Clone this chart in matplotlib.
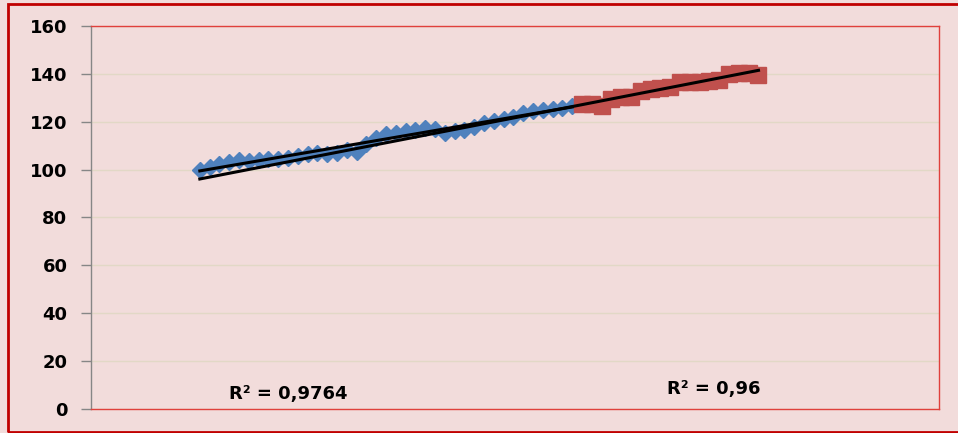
import numpy as np
import matplotlib
matplotlib.use("Agg")
import matplotlib.pyplot as plt
from matplotlib.patches import Rectangle

# blue series (diamonds) and red series (squares)
blue_vals = [100, 101, 102.2, 103, 104, 103.5, 104, 104.3, 104.5, 104.8,
             105.5, 106.5, 107, 106.5, 107, 108.2, 107.5, 110.5, 113, 115,
             115.5, 116, 116.5, 117.5, 117, 115.5, 116, 116.5, 118, 119.5,
             120.5, 121, 122, 123.5, 124.5, 124.8, 125.3, 125.8, 126.5]
red_vals = [127.5, 127.5, 126.5, 129.5, 130.5, 130.5, 133, 133.5, 134, 134.5,
            136.5, 136.5, 136.8, 137, 137.5, 140, 140.5, 140.5, 139.5]
r2_labels = ["R² = 0,9764", "R² = 0,96"]
y_ticks = [0, 20, 40, 60, 80, 100, 120, 140, 160]

x_blue = np.arange(len(blue_vals))
x_red = np.arange(len(blue_vals), len(blue_vals) + len(red_vals))

bg = "#F2DCDB"
fig = plt.figure(figsize=(9.58, 4.33), dpi=100, facecolor=bg)
ax = fig.add_axes([0.095, 0.0554, 0.885, 0.8846], facecolor=bg)

ax.plot(x_blue, blue_vals, linestyle="none", marker="D", markersize=8.5,
        color="#4F81BD", zorder=3)
ax.plot(x_red, red_vals, linestyle="none", marker="s", markersize=11,
        color="#C0504D", zorder=3)

# linear trend lines: blue over its own range, red forecast backward to the start
p1 = np.polyfit(x_blue, blue_vals, 1)
xb = np.array([x_blue[0], x_blue[-1]])
ax.plot(xb, np.polyval(p1, xb), color="black", lw=2.2, zorder=4)
p2 = np.polyfit(x_red, red_vals, 1)
xr = np.array([x_blue[0], x_red[-1]])
ax.plot(xr, np.polyval(p2, xr), color="black", lw=2.2, zorder=4)

ax.set_ylim(0, 160)
ax.set_xlim(-11.1, 75.4)
ax.set_yticks(y_ticks)
ax.set_xticks([])
ax.yaxis.grid(True, color="#E2D8C6", lw=1)
ax.set_axisbelow(True)
ax.tick_params(axis="y", direction="out", length=7, width=1, color="#868686",
               pad=10, labelsize=13)
for lbl in ax.get_yticklabels():
    lbl.set_fontweight("bold")

for s in ["top", "right", "bottom"]:
    ax.spines[s].set_color("#E0403C")
    ax.spines[s].set_linewidth(1)
ax.spines["left"].set_color("#868686")
ax.spines["left"].set_linewidth(1)

ax.text(0.163, 0.039, r2_labels[0], transform=ax.transAxes, fontsize=13,
        fontweight="bold", va="center", ha="left")
ax.text(0.679, 0.052, r2_labels[1], transform=ax.transAxes, fontsize=13,
        fontweight="bold", va="center", ha="left")

# outer chart border
fig.patches.append(Rectangle((0.0084, 0.003), 1.0, 0.987, transform=fig.transFigure,
                             fill=False, edgecolor="#C00000", lw=2))

fig.savefig("out.png", dpi=100, facecolor=bg)
